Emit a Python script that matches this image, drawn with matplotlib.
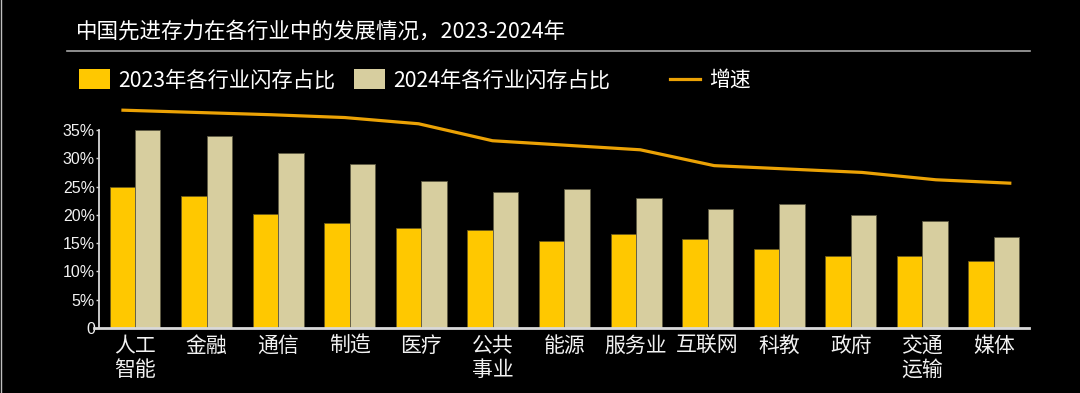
import numpy as np
import matplotlib.pyplot as plt
from matplotlib.patches import Patch
from matplotlib.lines import Line2D

plt.rcParams['font.family'] = ['Noto Sans CJK SC', 'DejaVu Sans']

title = '中国先进存力在各行业中的发展情况，2023-2024年'
categories = ['人工\n智能', '金融', '通信', '制造', '医疗', '公共\n事业', '能源',
              '服务业', '互联网', '科教', '政府', '交通\n运输', '媒体']
share_2023 = [25.0, 23.4, 20.1, 18.6, 17.7, 17.4, 15.4, 16.7, 15.7, 14.0, 12.7, 12.8, 11.8]
share_2024 = [35.0, 34.0, 31.0, 29.0, 26.0, 24.0, 24.5, 23.0, 21.0, 22.0, 20.0, 19.0, 16.0]
# growth line has no axis of its own, values read on the bar scale
growth = [38.5, 38.1, 37.7, 37.2, 36.1, 33.1, 32.3, 31.5, 28.7, 28.1, 27.5, 26.2, 25.6]
yticks = [0, 5, 10, 15, 20, 25, 30, 35]
ytick_labels = ['0', '5%', '10%', '15%', '20%', '25%', '30%', '35%']
legend_labels = ['2023年各行业闪存占比', '2024年各行业闪存占比', '增速']

c23 = '#FFC800'
c24 = '#D7CE9F'
cline = '#EBA205'
axis_col = '#D9D9D9'
txt = '#F2F2F2'

W, H = 1080, 393
fig = plt.figure(figsize=(W / 100, H / 100), dpi=100, facecolor='black')
ax = fig.add_axes([94 / W, 65 / H, 935 / W, 226.3 / H])
ax.set_facecolor('black')

x = np.arange(len(categories))
w = 0.356
ax.bar(x - w / 2, share_2023, w, color=c23, edgecolor='#6b5a1a', linewidth=0.6)
ax.bar(x + w / 2, share_2024, w, color=c24, edgecolor='#5e5a44', linewidth=0.6)
ax.set_xlim(-0.573, 12.49)
ax.set_ylim(0, 40)

ax.spines[['top', 'right']].set_visible(False)
ax.spines['left'].set_position(('data', -0.503))
ax.spines['left'].set_bounds(0, 35)
ax.spines['left'].set_color(axis_col)
ax.spines['left'].set_linewidth(1.3)
ax.spines['bottom'].set_color(axis_col)
ax.spines['bottom'].set_linewidth(2)

ax.set_yticks(yticks, ytick_labels, fontfamily='Liberation Sans', fontsize=11.5, color=txt)
ax.tick_params(axis='y', length=2, width=1, color=axis_col, pad=1)
ax.set_xticks(x, categories, fontsize=15, color=txt, linespacing=1.1)
ax.tick_params(axis='x', length=0, pad=5)

# line sits on its own x scale, slightly wider than the bar groups
ax2 = ax.twiny()
ax2.set_xlim(-0.392, 12.26)
ax2.plot(x, growth, color=cline, lw=2.3, solid_joinstyle='round')
ax2.axis('off')

fig.text(76 / W, 1 - 32 / H, title, fontsize=15.5, color='white', va='center')
fig.add_artist(Line2D([67 / W, 1030 / W], [1 - 50.7 / H] * 2, color='#A6A6A6', lw=1.2))
fig.add_artist(Line2D([0.5 / W, 0.5 / W], [0, 1], color='#BFBFBF', lw=1))

fig.legend(handles=[Patch(fc=c23), Patch(fc=c24)], labels=legend_labels[:2],
           loc='center left', bbox_to_anchor=(78.5 / W, 1 - 80 / H), ncol=2,
           frameon=False, fontsize=15.3, labelcolor='white', handlelength=1.48,
           handleheight=1.08, handletextpad=0.4, columnspacing=0.85,
           borderpad=0, borderaxespad=0)
fig.legend(handles=[Line2D([], [], color=cline, lw=2.3)], labels=legend_labels[2:],
           loc='center left', bbox_to_anchor=(670 / W, 1 - 80 / H),
           frameon=False, fontsize=15, labelcolor='white', handlelength=1.44,
           handletextpad=0.44, borderpad=0, borderaxespad=0)

fig.savefig('out.png', dpi=100, facecolor='black')
